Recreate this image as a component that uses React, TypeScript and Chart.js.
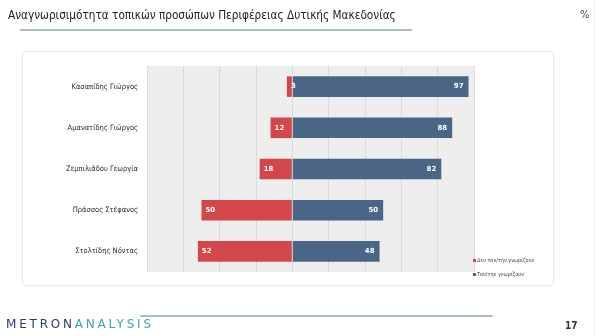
import React, { useEffect, useRef } from "react";
import { Chart, registerables } from "chart.js";

Chart.register(...registerables);

const candidates = [
  "Κασαπίδης Γιώργος",
  "Αμανατίδης Γιώργος",
  "Ζεμπιλιάδου Γεωργία",
  "Πράσσος Στέφανος",
  "Στολτίδης Νόντας",
];
const dontKnow = [3, 12, 18, 50, 52];
const know = [97, 88, 82, 50, 48];
const seriesNames = ["Δεν τον/την γνωρίζουν", "Τον/την γνωρίζουν"];
const RED = "#d3474a";
const BLUE = "#4a6586";

export default function App() {
  const ref = useRef<HTMLCanvasElement>(null);
  useEffect(() => {
    if (!ref.current) return;
    const bgPlugin = {
      id: "bg",
      beforeDraw(chart: any) {
        const { ctx, chartArea: a } = chart;
        const pc = document.createElement("canvas");
        pc.width = 4;
        pc.height = 4;
        const p = pc.getContext("2d")!;
        p.fillStyle = "#f1f1f1";
        p.fillRect(0, 0, 4, 4);
        p.strokeStyle = "#e4e4e4";
        p.lineWidth = 1;
        p.beginPath();
        p.moveTo(0, 4);
        p.lineTo(4, 0);
        p.stroke();
        ctx.save();
        ctx.fillStyle = ctx.createPattern(pc, "repeat");
        ctx.fillRect(a.left, a.top, a.right - a.left, a.bottom - a.top);
        ctx.restore();
      },
      afterDatasetsDraw(chart: any) {
        const { ctx } = chart;
        ctx.save();
        ctx.font = "bold 7px 'DejaVu Sans'";
        ctx.fillStyle = "#ffffff";
        ctx.textBaseline = "middle";
        chart.data.datasets.forEach((ds: any, di: number) => {
          const meta = chart.getDatasetMeta(di);
          meta.data.forEach((bar: any, i: number) => {
            const v = Math.abs(ds.data[i]);
            if (di === 0) {
              const left = Math.min(bar.x, bar.base);
              ctx.textAlign = "left";
              ctx.fillText(String(v), left + 4, bar.y);
            } else {
              const right = Math.max(bar.x, bar.base);
              ctx.textAlign = "right";
              ctx.fillText(String(v), right - 5, bar.y);
            }
          });
        });
        ctx.restore();
      },
    };
    const chart = new Chart(ref.current, {
      type: "bar",
      data: {
        labels: candidates,
        datasets: [
          {
            label: seriesNames[0],
            data: dontKnow.map((v) => -v),
            backgroundColor: RED,
            borderWidth: 0,
            barPercentage: 0.5,
            categoryPercentage: 1,
          },
          {
            label: seriesNames[1],
            data: know,
            backgroundColor: BLUE,
            borderWidth: 0,
            barPercentage: 0.5,
            categoryPercentage: 1,
          },
        ],
      },
      options: {
        indexAxis: "y",
        responsive: false,
        animation: false,
        layout: { padding: { left: 0, right: 126, top: 66, bottom: 64 } },
        plugins: {
          legend: { display: false },
          tooltip: { enabled: false },
        },
        scales: {
          x: {
            stacked: true,
            min: -80,
            max: 100,
            ticks: { display: false, stepSize: 20 },
            grid: { color: "#dadada", drawTicks: false, lineWidth: 1 },
            border: { display: false },
          },
          y: {
            stacked: true,
            grid: { display: false, drawTicks: false },
            border: { display: false },
            ticks: {
              padding: 9,
              color: "#2a2a2a",
              font: { family: "'DejaVu Sans Condensed'", size: 7.5 },
            },
            afterFit(scale: any) {
              scale.width = 147;
            },
          },
        },
      },
      plugins: [bgPlugin],
    });
    return () => chart.destroy();
  }, []);

  return (
    <div
      style={{
        position: "absolute",
        left: 0,
        top: 0,
        width: 600,
        height: 336,
        background: "#ffffff",
        overflow: "hidden",
        fontFamily: "'DejaVu Sans Condensed', sans-serif",
      }}
    >
      <div
        style={{
          position: "absolute",
          left: 22,
          top: 51,
          width: 530,
          height: 233,
          border: "1px solid #e8e8e8",
          borderRadius: 4,
          boxShadow: "0 1px 2px rgba(0,0,0,0.05)",
        }}
      />
      <div
        style={{
          position: "absolute",
          left: 594,
          top: 0,
          width: 1,
          height: 336,
          background: "#f0f0f0",
        }}
      />
      <canvas
        ref={ref}
        width={600}
        height={336}
        style={{ position: "absolute", left: 0, top: 0 }}
      />
      <div
        style={{
          position: "absolute",
          left: 8,
          top: 8,
          fontSize: 11.7,
          color: "#222",
          whiteSpace: "nowrap",
        }}
      >
        Αναγνωρισιμότητα τοπικών προσώπων Περιφέρειας Δυτικής Μακεδονίας
      </div>
      <div
        style={{
          position: "absolute",
          left: 20,
          top: 29,
          width: 392,
          height: 2,
          background: "#a9bcc6",
          borderRadius: 1,
        }}
      />
      <div
        style={{
          position: "absolute",
          left: 580,
          top: 8,
          fontSize: 11,
          color: "#444",
        }}
      >
        %
      </div>
      <div
        style={{
          position: "absolute",
          left: 473,
          top: 253,
          fontSize: 5.5,
          color: "#444",
          lineHeight: "14px",
          whiteSpace: "nowrap",
        }}
      >
        <div>
          <span
            style={{
              display: "inline-block",
              width: 3,
              height: 3,
              background: RED,
              marginRight: 1,
            }}
          />
          {seriesNames[0]}
        </div>
        <div>
          <span
            style={{
              display: "inline-block",
              width: 3,
              height: 3,
              background: BLUE,
              marginRight: 1,
            }}
          />
          {seriesNames[1]}
        </div>
      </div>
      <div
        style={{
          position: "absolute",
          left: 140,
          top: 315,
          width: 353,
          height: 2,
          background: "#a9bcc6",
          borderRadius: 1,
        }}
      />
      <div
        style={{
          position: "absolute",
          left: 6,
          top: 317,
          fontSize: 12,
          letterSpacing: 2.8,
          whiteSpace: "nowrap",
          fontFamily: "'DejaVu Sans', sans-serif",
        }}
      >
        <span style={{ color: "#2c3c66" }}>METRON</span>
        <span style={{ color: "#3ea6a8" }}>ANALYSIS</span>
      </div>
      <div
        style={{
          position: "absolute",
          left: 565,
          top: 320,
          fontSize: 10,
          fontWeight: "bold",
          color: "#333",
        }}
      >
        17
      </div>
    </div>
  );
}
